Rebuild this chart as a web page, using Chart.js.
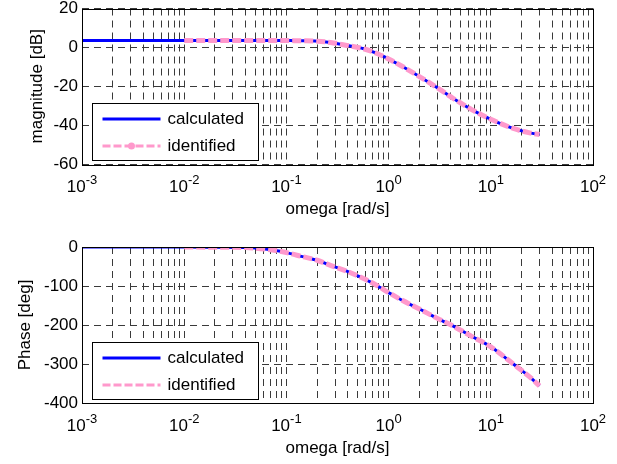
<!DOCTYPE html>
<html>
<head>
<meta charset="utf-8">
<script src="https://cdn.jsdelivr.net/npm/chart.js@4.4.1/dist/chart.umd.min.js"></script>
<style>
  html, body { margin: 0; padding: 0; background: #fff; }
  #wrap { position: relative; width: 617px; height: 464px; overflow: hidden; }
  canvas { position: absolute; left: 0; }
  #magChart   { top: -4px; }
  #phaseChart { top: 232px; }
</style>
</head>
<body>
<div id="wrap">
  <canvas id="magChart" width="617" height="236"></canvas>
  <canvas id="phaseChart" width="617" height="232"></canvas>
</div>
<script>
"use strict";

// frequency points [rad/s]
const omegaCalc  = [0.001, 0.003, 0.01, 0.02, 0.04, 0.065, 0.087, 0.11, 0.14, 0.2, 0.27, 0.39, 0.57, 0.76, 1.0, 1.3, 2.0, 3.0, 4.3, 6.5, 10, 16.6, 24, 30];
const magCalc    = [3.6, 3.6, 3.6, 3.6, 3.6, 3.6, 3.6, 3.5, 3.4, 3.2, 2.5, 1.0, -0.7, -3.0, -6.0, -9.2, -15.0, -20.8, -26.3, -32.0, -37.0, -41.7, -44.0, -44.8];
const phaseCalc  = [0, 0, 0, -0.5, -1.5, -6, -11, -17, -24, -34, -47, -62, -81, -98, -117, -134, -159, -183, -203, -229, -256, -300, -333, -356];

const omegaIdent = [0.01, 0.02, 0.04, 0.065, 0.087, 0.11, 0.14, 0.2, 0.27, 0.39, 0.57, 0.76, 1.0, 1.3, 2.0, 3.0, 4.3, 6.5, 10, 16.6, 24, 30];
const magIdent   = [3.6, 3.6, 3.6, 3.6, 3.6, 3.5, 3.4, 3.2, 2.5, 1.0, -0.7, -3.0, -6.0, -9.2, -15.0, -20.8, -26.3, -32.0, -37.0, -41.7, -44.0, -44.8];
const phaseIdent = [0, -0.5, -1.5, -6, -11, -17, -24, -34, -47, -62, -81, -98, -117, -134, -159, -183, -203, -229, -256, -300, -333, -356];

const seriesLabels = ["calculated", "identified"];
const decadeExps   = [-3, -2, -1, 0, 1, 2];
const decadeMults  = [1, 2, 3, 4, 5, 6, 7, 8, 9];
const magTicks     = [20, 0, -20, -40, -60];
const phaseTicks   = [0, -100, -200, -300, -400];

const FONT   = "'Liberation Sans', Arial, sans-serif";
const BLUE   = "#0000ff";
const PINK   = "#ff99cc";
const GRID   = "#3a3a3a";

const xTickValues = [];
decadeExps.forEach((e) => {
  decadeMults.forEach((m) => {
    const v = m * Math.pow(10, e);
    if (v <= Math.pow(10, decadeExps[decadeExps.length - 1])) xTickValues.push(v);
  });
});

const toPoints = (xs, ys) => xs.map((x, i) => ({ x, y: ys[i] }));

// frame, 10^n labels and the boxed legend, MATLAB style
const bodeDecor = {
  id: "bodeDecor",
  afterDraw(chart, args, opts) {
    const { ctx, chartArea: a } = chart;
    const xs = chart.scales.x;
    ctx.save();
    ctx.strokeStyle = "#000";
    ctx.lineWidth = 1;
    ctx.setLineDash([]);
    ctx.strokeRect(Math.round(a.left) + 0.5, Math.round(a.top) + 0.5,
                   Math.round(a.right - a.left), Math.round(a.bottom - a.top));

    // x tick labels with exponents
    ctx.fillStyle = "#000";
    ctx.textAlign = "left";
    ctx.textBaseline = "alphabetic";
    decadeExps.forEach((e) => {
      const px = xs.getPixelForValue(Math.pow(10, e));
      const sup = String(e);
      ctx.font = "17px " + FONT;
      const wb = ctx.measureText("10").width;
      ctx.font = "13px " + FONT;
      const ws = ctx.measureText(sup).width;
      const x0 = px - (wb + ws) / 2;
      const yBase = a.bottom + 28;
      ctx.font = "17px " + FONT;
      ctx.fillText("10", x0, yBase);
      ctx.font = "13px " + FONT;
      ctx.fillText(sup, x0 + wb, yBase - 8);
    });

    // legend box
    const bx = Math.round(a.left) + 10.5;
    const by = Math.round(a.bottom) - 60.5;
    const bw = 166, bh = 57;
    ctx.fillStyle = "#fff";
    ctx.fillRect(bx, by, bw, bh);
    ctx.strokeStyle = "#000";
    ctx.strokeRect(bx, by, bw, bh);

    const rows = [by + 15, by + 42];
    const styles = [
      { color: BLUE, dash: [], width: 3 },
      { color: PINK, dash: [8, 3], width: 3 },
    ];
    seriesLabels.forEach((lbl, i) => {
      const y = Math.round(rows[i]);
      ctx.beginPath();
      ctx.strokeStyle = styles[i].color;
      ctx.lineWidth = styles[i].width;
      ctx.setLineDash(styles[i].dash);
      ctx.moveTo(bx + 10, y);
      ctx.lineTo(bx + 68, y);
      ctx.stroke();
      if (i === 1 && opts.marker) {
        ctx.setLineDash([]);
        ctx.fillStyle = PINK;
        ctx.beginPath();
        ctx.arc(bx + 39, y, 3.5, 0, Math.PI * 2);
        ctx.fill();
      }
      ctx.setLineDash([]);
      ctx.fillStyle = "#000";
      ctx.font = "17px " + FONT;
      ctx.textBaseline = "middle";
      ctx.fillText(lbl, bx + 75, y);
      ctx.textBaseline = "alphabetic";
    });
    ctx.restore();
  },
};

function makeBodeChart({ canvasId, calc, ident, yTicks, yTitle, titlePad, topPad, xHeight, marker }) {
  const canvas = document.getElementById(canvasId);
  if (!canvas) return null;

  return new Chart(canvas, {
    type: "line",
    data: {
      datasets: [
        {
          label: seriesLabels[1],
          data: toPoints(omegaIdent, ident),
          borderColor: PINK,
          borderWidth: 5,
          borderDash: [9, 3],
          pointRadius: 0,
          cubicInterpolationMode: "monotone",
          order: 0,
        },
        {
          label: seriesLabels[0],
          data: toPoints(omegaCalc, calc),
          borderColor: BLUE,
          borderWidth: 3,
          pointRadius: 0,
          cubicInterpolationMode: "monotone",
          order: 1,
        },
      ],
    },
    options: {
      responsive: false,
      devicePixelRatio: 1,
      animation: false,
      layout: { padding: { top: topPad, right: 24, left: 0, bottom: 0 } },
      plugins: {
        legend: { display: false },
        tooltip: { enabled: false },
        bodeDecor: { marker },
      },
      scales: {
        x: {
          type: "logarithmic",
          min: Math.pow(10, decadeExps[0]),
          max: Math.pow(10, decadeExps[decadeExps.length - 1]),
          afterBuildTicks: (s) => { s.ticks = xTickValues.map((v) => ({ value: v })); },
          afterFit: (s) => { s.height = xHeight; },
          ticks: { display: false },
          grid: { color: GRID, lineWidth: 1, drawTicks: false },
          border: { display: false, dash: [7, 5] },
          title: {
            display: true,
            text: "omega [rad/s]",
            color: "#000",
            font: { family: FONT, size: 17 },
            padding: { top: 0, bottom: xHeight - 56 },
          },
        },
        y: {
          min: yTicks[yTicks.length - 1],
          max: yTicks[0],
          afterBuildTicks: (s) => { s.ticks = yTicks.map((v) => ({ value: v })); },
          afterFit: (s) => { s.width = 82; },
          ticks: {
            color: "#000",
            padding: 4,
            font: { family: FONT, size: 17, lineHeight: 1 },
          },
          grid: { color: GRID, lineWidth: 1, drawTicks: false },
          border: { display: false, dash: [7, 5] },
          title: {
            display: true,
            text: yTitle,
            color: "#000",
            font: { family: FONT, size: 17 },
            padding: { top: titlePad, bottom: 0 },
          },
        },
      },
    },
    plugins: [bodeDecor],
  });
}

makeBodeChart({
  canvasId: "magChart",
  calc: magCalc,
  ident: magIdent,
  yTicks: magTicks,
  yTitle: "magnitude [dB]",
  titlePad: 27,
  topPad: 12,
  xHeight: 68,
  marker: true,
});

makeBodeChart({
  canvasId: "phaseChart",
  calc: phaseCalc,
  ident: phaseIdent,
  yTicks: phaseTicks,
  yTitle: "Phase [deg]",
  titlePad: 15,
  topPad: 15,
  xHeight: 61,
  marker: false,
});
</script>
</body>
</html>
